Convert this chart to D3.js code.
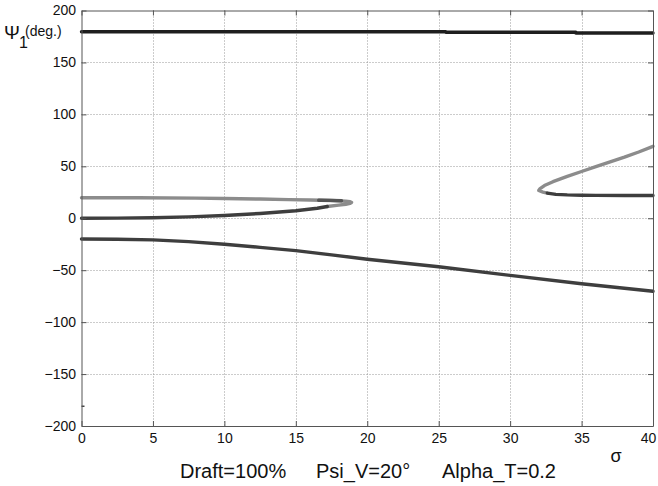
<!DOCTYPE html>
<html>
<head>
<meta charset="utf-8">
<script src="https://cdn.jsdelivr.net/npm/d3@7"></script>
<style>
  body { margin: 0; background: #fff; }
  svg { display: block; }
</style>
</head>
<body>
<script>
// curve data: sigma (x) and Psi_1 in degrees (y)
const topSigma = [0, 25.5, 25.5, 34.6, 34.6, 40];
const topPsi = [179.6, 179.6, 179.0, 179.0, 178.4, 178.4];

const leftGraySigma = [0, 4, 8, 10, 12.5, 14.5, 16, 17.5, 18.5, 18.8, 18.9, 18.8, 18.5, 18.0, 17.2];
const leftGrayPsi = [19.7, 19.7, 19.4, 19.0, 18.5, 17.9, 17.5, 17.1, 16.5, 16.0, 15.2, 14.3, 13.5, 12.6, 11.3];
const leftDarkSigma = [17.2, 16.5, 15, 12.5, 10, 7.5, 5, 2.5, 0];
const leftDarkPsi = [11.3, 9.6, 7.2, 4.6, 2.6, 1.3, 0.5, 0.1, 0];
const leftDarkTipSigma = [16.6, 17.4, 18.2];
const leftDarkTipPsi = [17.4, 17.2, 16.8];

const lowerSigma = [0, 2.5, 5, 7.5, 10, 12.5, 15, 17.5, 20, 25, 30, 35, 40];
const lowerPsi = [-20, -20.2, -20.8, -22.5, -25, -28, -31.2, -35.2, -39.5, -46.7, -55, -63, -70.3];

const rightGraySigma = [32.6, 32.3, 32.0, 32.1, 32.4, 33, 34, 35, 36, 37, 38, 39, 40];
const rightGrayPsi = [24.2, 25.2, 26.7, 28.6, 31.5, 35.2, 40.3, 45, 49.6, 54.2, 58.8, 63.8, 69.2];
const rightDarkSigma = [32.6, 33.2, 34, 35, 36, 38, 40];
const rightDarkPsi = [24.2, 23.0, 22.5, 22.2, 22.0, 21.9, 21.9];

const strayPoint = [{ s: 0, p: -181 }];

const xTicks = [0, 5, 10, 15, 20, 25, 30, 35, 40];
const yTicks = [-200, -150, -100, -50, 0, 50, 100, 150, 200];
const captionParts = ["Draft=100%", "Psi_V=20°", "Alpha_T=0.2"];

const width = 658, height = 486;
const margin = { top: 10.5, right: 5, bottom: 60, left: 81.5 };
const font = "'Liberation Sans', Arial, sans-serif";

const svg = d3.select("body").append("svg")
    .attr("width", width)
    .attr("height", height)
    .attr("font-family", font);

const x = d3.scaleLinear()
    .domain([0, 40])
    .range([margin.left, width - margin.right]);

const y = d3.scaleLinear()
    .domain([-200, 200])
    .range([height - margin.bottom, margin.top]);

// dotted grid
svg.append("g")
    .attr("stroke", "#999")
    .attr("stroke-width", 1)
    .attr("stroke-dasharray", "1,2")
    .selectAll("line")
    .data(xTicks.slice(1, -1))
    .join("line")
      .attr("x1", d => Math.round(x(d)) + 0.5)
      .attr("x2", d => Math.round(x(d)) + 0.5)
      .attr("y1", y(200))
      .attr("y2", y(-200));

svg.append("g")
    .attr("stroke", "#999")
    .attr("stroke-width", 1)
    .attr("stroke-dasharray", "1,2")
    .selectAll("line")
    .data(yTicks.slice(1, -1))
    .join("line")
      .attr("x1", x(0))
      .attr("x2", x(40))
      .attr("y1", d => Math.round(y(d)) + 0.5)
      .attr("y2", d => Math.round(y(d)) + 0.5);

// curves
const line = d3.line()
    .x(d => x(d[0]))
    .y(d => y(d[1]));

const zip = (a, b) => a.map((v, i) => [v, b[i]]);

const curves = [
    { pts: zip(topSigma, topPsi), color: "#1e1e1e" },
    { pts: zip(lowerSigma, lowerPsi), color: "#3e3e3e" },
    { pts: zip(leftGraySigma, leftGrayPsi), color: "#8c8c8c" },
    { pts: zip(leftDarkSigma, leftDarkPsi), color: "#3e3e3e" },
    { pts: zip(leftDarkTipSigma, leftDarkTipPsi), color: "#555" },
    { pts: zip(rightGraySigma, rightGrayPsi), color: "#8c8c8c" },
    { pts: zip(rightDarkSigma, rightDarkPsi), color: "#3e3e3e" }
];

svg.append("g")
    .attr("fill", "none")
    .attr("stroke-linejoin", "round")
    .attr("stroke-linecap", "round")
    .selectAll("path")
    .data(curves)
    .join("path")
      .attr("stroke", d => d.color)
      .attr("stroke-width", 3.4)
      .attr("d", d => line(d.pts));

svg.append("g")
    .selectAll("line")
    .data(strayPoint)
    .join("line")
      .attr("x1", d => x(d.s))
      .attr("x2", d => x(d.s) + 3)
      .attr("y1", d => y(d.p))
      .attr("y2", d => y(d.p))
      .attr("stroke", "#444")
      .attr("stroke-width", 1.5);

// axes, ticks pointing inward on all four sides
const styleAxis = g => {
    g.select(".domain").attr("stroke", "#555").attr("fill", "none");
    g.selectAll(".tick line").attr("stroke", "#555");
    g.selectAll(".tick text")
        .attr("fill", "#111")
        .attr("font-family", font)
        .attr("font-size", 14);
};

svg.append("g")
    .attr("transform", `translate(0,${y(-200)})`)
    .call(d3.axisBottom(x).tickValues(xTicks).tickSize(-5).tickSizeOuter(0).tickPadding(7))
    .call(styleAxis)
    .call(g => g.selectAll(".tick text").filter(d => d === 40).attr("dx", -5));

svg.append("g")
    .attr("transform", `translate(${x(0)},0)`)
    .call(d3.axisLeft(y).tickValues(yTicks).tickSize(-5).tickSizeOuter(0).tickPadding(5.5))
    .call(styleAxis);

svg.append("g")
    .attr("transform", `translate(0,${y(200)})`)
    .call(d3.axisTop(x).tickValues(xTicks).tickSize(-5).tickSizeOuter(0).tickFormat(""))
    .call(styleAxis);

svg.append("g")
    .attr("transform", `translate(${x(40)},0)`)
    .call(d3.axisRight(y).tickValues(yTicks).tickSize(-5).tickSizeOuter(0).tickFormat(""))
    .call(styleAxis);

// y label: Psi_1 (deg.)
const ylab = svg.append("text").attr("fill", "#111");
ylab.append("tspan").attr("x", 4).attr("y", 39).attr("font-size", 19).text("Ψ");
ylab.append("tspan").attr("x", 19).attr("y", 48).attr("font-size", 16).text("1");
ylab.append("tspan").attr("x", 25).attr("y", 36).attr("font-size", 14).text("(deg.)");

// x label
svg.append("text")
    .attr("x", 616)
    .attr("y", 462)
    .attr("text-anchor", "middle")
    .attr("font-size", 18)
    .attr("fill", "#111")
    .text("σ");

// caption under the plot
const captionX = [180, 316, 442];
svg.append("g")
    .selectAll("text")
    .data(captionParts)
    .join("text")
      .attr("x", (d, i) => captionX[i])
      .attr("y", 478)
      .attr("font-size", 20)
      .attr("fill", "#111")
      .text(d => d);
</script>
</body>
</html>
